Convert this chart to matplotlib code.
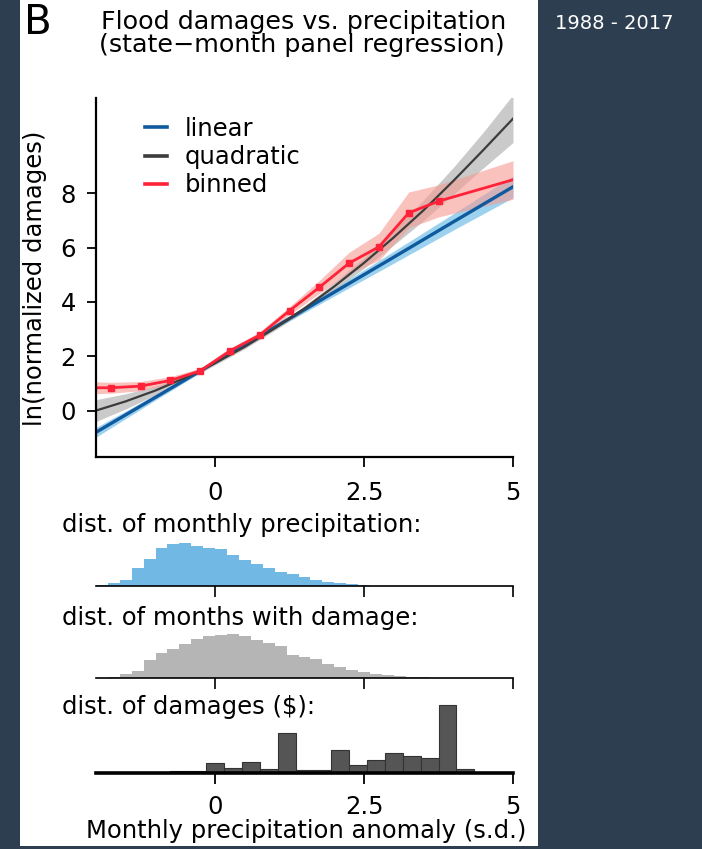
import matplotlib.pyplot as plt
import matplotlib.patches as patches
import numpy as np

plt.rcParams['font.family'] = ['DejaVu Sans']
plt.rcParams['font.size'] = 17.5

W, H = 702, 849

# linear fit with 95% band
lin_x = [-2, -1, 0, 1, 2, 3, 4, 5]
lin_y = [-0.80, 0.49, 1.78, 3.07, 4.36, 5.65, 6.95, 8.24]
lin_err = [0.18, 0.10, 0.05, 0.07, 0.14, 0.22, 0.30, 0.40]

# quadratic fit with 95% band
quad_x = [-2, -1.5, -1, -0.5, 0, 0.5, 1, 1.5, 2, 2.5, 3, 3.5, 4, 4.5, 5]
quad_y = [0.0, 0.34, 0.74, 1.21, 1.75, 2.35, 3.03, 3.76, 4.57, 5.44, 6.38, 7.38, 8.46, 9.59, 10.75]
quad_err = [0.40, 0.28, 0.16, 0.10, 0.07, 0.07, 0.08, 0.10, 0.14, 0.20, 0.28, 0.38, 0.50, 0.66, 0.88]

# binned estimates (end points carry the outer bins to the axis limits)
bin_x = [-2.0, -1.75, -1.25, -0.75, -0.25, 0.25, 0.75, 1.25, 1.75, 2.25, 2.75, 3.25, 3.75, 5.0]
bin_y = [0.84, 0.84, 0.90, 1.11, 1.46, 2.20, 2.78, 3.68, 4.54, 5.43, 6.03, 7.28, 7.71, 8.50]
bin_lo = [0.22, 0.20, 0.17, 0.14, 0.10, 0.10, 0.12, 0.15, 0.22, 0.38, 0.50, 0.55, 0.58, 0.72]
bin_hi = [0.22, 0.20, 0.17, 0.14, 0.10, 0.10, 0.12, 0.15, 0.25, 0.40, 0.50, 0.77, 0.60, 0.70]

# distribution of monthly precipitation (0.2 s.d. bins from -2, relative to peak)
precip_hist = [0.02, 0.08, 0.13, 0.42, 0.62, 0.88, 0.98, 1.00, 0.93, 0.89, 0.86, 0.72, 0.60,
               0.50, 0.42, 0.33, 0.27, 0.20, 0.15, 0.10, 0.07, 0.04, 0.02, 0.01, 0.0]

# distribution of months with damage (0.2 s.d. bins from -2)
dmg_month_hist = [0.01, 0.03, 0.08, 0.15, 0.40, 0.58, 0.65, 0.78, 0.88, 0.95, 0.98, 1.00, 0.95,
                  0.86, 0.80, 0.72, 0.52, 0.48, 0.44, 0.32, 0.25, 0.18, 0.14, 0.10, 0.07, 0.05,
                  0.03, 0.02, 0.01, 0.005]

# distribution of damages in $ (0.3 s.d. bins from -1.95)
dmg_hist = [0.015, 0.015, 0.015, 0.02, 0.03, 0.03, 0.15, 0.07, 0.16, 0.06, 0.59, 0.045, 0.045,
            0.34, 0.12, 0.19, 0.29, 0.25, 0.22, 1.00, 0.06, 0.015]

xticks = [0, 2.5, 5]
xticklabels = ['0', '2.5', '5']
yticks = [0, 2, 4, 6, 8]


def box(x0, y0, x1, y1):
    return [x0 / W, 1 - y1 / H, (x1 - x0) / W, (y1 - y0) / H]


def fx(x):
    return x / W


def fy(y):
    return 1 - y / H


fig = plt.figure(figsize=(W / 100, H / 100), dpi=100, facecolor='#2c3e50')
fig.patches.append(patches.Rectangle((fx(20), fy(846)), (538 - 20) / W, 846 / H,
                                     transform=fig.transFigure, facecolor='white',
                                     edgecolor='none', zorder=-1))

# main regression panel
ax = fig.add_axes(box(96, 98, 513, 457))
ax.patch.set_visible(False)
lx, ly, le = np.array(lin_x), np.array(lin_y), np.array(lin_err)
qx, qy, qe = np.array(quad_x), np.array(quad_y), np.array(quad_err)
bx, by = np.array(bin_x), np.array(bin_y)
ax.fill_between(lx, ly - le, ly + le, color='#7cc4ea', alpha=0.75, lw=0)
ax.fill_between(qx, qy - qe, qy + qe, color='#a8a8a8', alpha=0.6, lw=0)
ax.fill_between(bx, by - np.array(bin_lo), by + np.array(bin_hi), color='#f59a92', alpha=0.6, lw=0)
ax.plot(lx, ly, color='#0f5a9e', lw=2.4, label='linear')
ax.plot(qx, qy, color='#3c3c3c', lw=1.6, label='quadratic')
ax.plot(bx, by, color='#ff2238', lw=2.0, marker='s', ms=5, markevery=list(range(1, 13)),
        label='binned')
ax.set_xlim(-2, 5)
ax.set_ylim(-1.71, 11.51)
ax.set_xticks(xticks)
ax.set_xticklabels(xticklabels)
ax.set_yticks(yticks)
for s in ['top', 'right']:
    ax.spines[s].set_visible(False)
for s in ['left', 'bottom']:
    ax.spines[s].set_linewidth(1.6)
ax.tick_params(axis='x', direction='out', length=7, width=1.3, pad=10)
ax.tick_params(axis='y', direction='out', length=6.5, width=1.3, pad=8)
leg = ax.legend(loc='upper left', bbox_to_anchor=((145 - 96) / 417, (457 - 117) / 359),
                frameon=False, borderpad=0, borderaxespad=0, handlelength=0.9,
                handletextpad=0.75, labelspacing=0.17)
for h in leg.get_lines():
    h.set_linewidth(2.6)
    h.set_marker('')

# histograms under the main panel
hist_specs = [
    (box(96, 536, 513, 586), precip_hist, np.arange(-2.0, 3.01, 0.2), '#72b8e4', 1.16, 1.2),
    (box(96, 628, 513, 678), dmg_month_hist, np.arange(-2.0, 4.01, 0.2), '#b5b5b5', 1.14, 1.2),
]
for rect, vals, edges, col, top, lw in hist_specs:
    hx = fig.add_axes(rect)
    hx.patch.set_visible(False)
    hx.stairs(vals, edges, fill=True, color=col, lw=0)
    hx.set_xlim(-2, 5)
    hx.set_ylim(0, top)
    hx.set_yticks([])
    hx.set_xticks(xticks)
    hx.set_xticklabels([])
    for s in ['top', 'right', 'left']:
        hx.spines[s].set_visible(False)
    hx.spines['bottom'].set_linewidth(lw)
    hx.tick_params(axis='x', direction='out', length=8, width=1.2)

dx = fig.add_axes(box(96, 700, 513, 773))
dx.patch.set_visible(False)
dmg_edges = np.arange(-1.95, 4.66, 0.3)
dx.bar(dmg_edges[:-1] + 0.15, dmg_hist, width=0.3, color='#555555', edgecolor='#333333', lw=0.8)
dx.set_xlim(-2, 5)
dx.set_ylim(0, 1.07)
dx.set_yticks([])
dx.set_xticks(xticks)
dx.set_xticklabels(xticklabels)
for s in ['top', 'right', 'left']:
    dx.spines[s].set_visible(False)
dx.spines['bottom'].set_linewidth(2.6)
dx.tick_params(axis='x', direction='out', length=8, width=1.3, pad=8)

# texts
fig.text(fx(24), fy(34), 'B', fontsize=29, va='baseline')
fig.text(fx(304), fy(29), 'Flood damages vs. precipitation', fontsize=18.3, ha='center', va='baseline')
fig.text(fx(302), fy(52), '(state\u2212month panel regression)', fontsize=18.3, ha='center',
         va='baseline')
fig.text(fx(35), fy(278), 'ln(normalized damages)', rotation=90, ha='center', va='center')
fig.text(fx(62), fy(532), 'dist. of monthly precipitation:', va='baseline')
fig.text(fx(62), fy(625), 'dist. of months with damage:', va='baseline')
fig.text(fx(62), fy(714), 'dist. of damages ($):', va='baseline')
fig.text(fx(306), fy(838), 'Monthly precipitation anomaly (s.d.)', ha='center', va='baseline')
fig.text(fx(555), fy(29), '1988 - 2017', color='white', fontsize=14, va='baseline')

fig.savefig('out.png', dpi=100, facecolor=fig.get_facecolor())
